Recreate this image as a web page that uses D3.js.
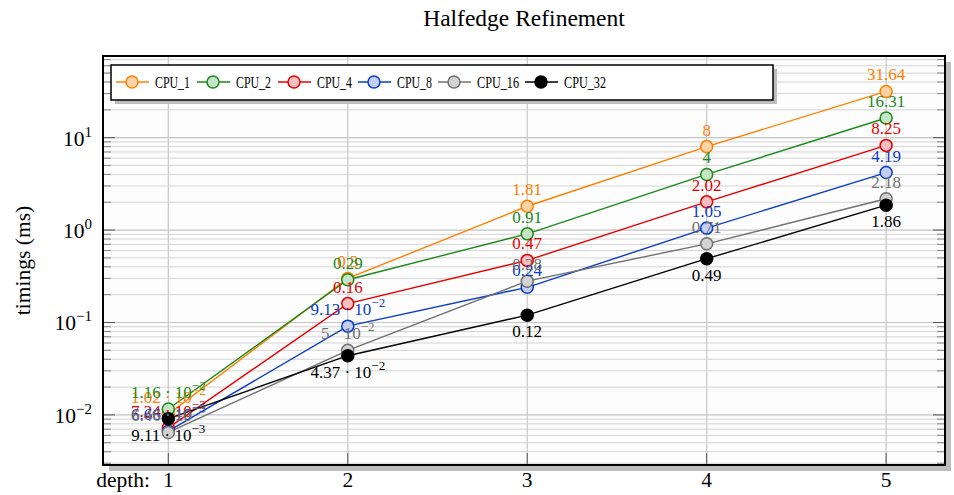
<!doctype html>
<html lang="en">
<head>
<meta charset="UTF-8">
<script src="https://d3js.org/d3.v7.min.js"></script>
<title>Halfedge Refinement</title>
<style>
    body { margin: 0; background: #fff; }
    text { font-family: "Liberation Serif", "DejaVu Serif", serif; }
</style>
</head>
<body>
<svg id="svg1" width="954" height="495"></svg>
<script>
    // data
    var depths = [1, 2, 3, 4, 5];
    var seriesNames = ["CPU_1", "CPU_2", "CPU_4", "CPU_8", "CPU_16", "CPU_32"];
    var cpu1 = [1.02e-2, 0.3, 1.81, 8, 31.64];
    var cpu2 = [1.16e-2, 0.29, 0.91, 4, 16.31];
    var cpu4 = [7.24e-3, 0.16, 0.47, 2.02, 8.25];
    var cpu8 = [6.66e-3, 9.13e-2, 0.24, 1.05, 4.19];
    var cpu16 = [6.46e-3, 5e-2, 0.28, 0.71, 2.18];
    var cpu32 = [9.11e-3, 4.37e-2, 0.12, 0.49, 1.86];
    var yTickLabels = ["10^-2", "10^-1", "10^0", "10^1"];

    var lineColors = ["#ff8000", "#1a8a1a", "#e60000", "#0a3cc8", "#707070", "#000000"];
    var fillColors = ["#ffd3a8", "#c6e4c6", "#f6c0c0", "#c2cff2", "#d2d2d2", "#000000"];
    var allValues = [cpu1, cpu2, cpu4, cpu8, cpu16, cpu32];

    var pLeft = 103, pRight = 945, pTop = 56, pBottom = 465;
    var svg = d3.select("#svg1");

    var x = d3.scaleLinear().domain([0.636, 5.328]).range([pLeft, pRight]);
    var y = d3.scaleLog().domain([0.00287, 76.5]).range([pBottom, pTop]);

    // title
    svg.append("text")
        .attr("x", (pLeft + pRight) / 2)
        .attr("y", 26)
        .attr("text-anchor", "middle")
        .attr("font-size", "23.5px")
        .text("Halfedge Refinement");

    // shadow of the axis box
    svg.append("rect")
        .attr("x", pLeft + 6).attr("y", pTop + 6)
        .attr("width", pRight - pLeft).attr("height", pBottom - pTop)
        .attr("fill", "#bdbdbd");
    svg.append("rect")
        .attr("x", pLeft).attr("y", pTop)
        .attr("width", pRight - pLeft).attr("height", pBottom - pTop)
        .attr("fill", "#fdfdfd");

    var grid = svg.append("g");
    var minorVals = [];
    for (var e = -3; e <= 1; e++) {
        for (var m = 2; m <= 9; m++) {
            var v = m * Math.pow(10, e);
            if (v > y.domain()[0] && v < y.domain()[1]) minorVals.push(v);
        }
    }
    var majorVals = [1e-2, 1e-1, 1, 10];

    grid.selectAll(null).data(minorVals).enter().append("line")
        .attr("x1", pLeft).attr("x2", pRight)
        .attr("y1", function (d) { return y(d); })
        .attr("y2", function (d) { return y(d); })
        .attr("stroke", "#d4d4d4").attr("stroke-width", 1);
    grid.selectAll(null).data(majorVals).enter().append("line")
        .attr("x1", pLeft).attr("x2", pRight)
        .attr("y1", function (d) { return y(d); })
        .attr("y2", function (d) { return y(d); })
        .attr("stroke", "#c4c4c4").attr("stroke-width", 1.2);
    grid.selectAll(null).data(depths).enter().append("line")
        .attr("x1", function (d) { return x(d); })
        .attr("x2", function (d) { return x(d); })
        .attr("y1", pTop).attr("y2", pBottom)
        .attr("stroke", "#c8c8c8").attr("stroke-width", 1.2);

    // tick marks inside on both sides
    var ticks = svg.append("g");
    [[pLeft, 1], [pRight, -1]].forEach(function (s) {
        ticks.selectAll(null).data(minorVals).enter().append("line")
            .attr("x1", s[0]).attr("x2", s[0] + s[1] * 8)
            .attr("y1", function (d) { return y(d); })
            .attr("y2", function (d) { return y(d); })
            .attr("stroke", "#888").attr("stroke-width", 1);
        ticks.selectAll(null).data(majorVals).enter().append("line")
            .attr("x1", s[0]).attr("x2", s[0] + s[1] * 12)
            .attr("y1", function (d) { return y(d); })
            .attr("y2", function (d) { return y(d); })
            .attr("stroke", "#555").attr("stroke-width", 1);
    });
    ticks.selectAll(null).data(depths).enter().append("line")
        .attr("x1", function (d) { return x(d); })
        .attr("x2", function (d) { return x(d); })
        .attr("y1", pBottom).attr("y2", pBottom - 12)
        .attr("stroke", "#555").attr("stroke-width", 1);

    // y tick labels
    var ylab = svg.append("g");
    yTickLabels.forEach(function (t, i) {
        var txt = ylab.append("text")
            .attr("x", 92)
            .attr("y", y(majorVals[i]) + 8)
            .attr("text-anchor", "end")
            .attr("font-size", "21.5px");
        var parts = t.split("^");
        txt.append("tspan").text(parts[0]);
        txt.append("tspan").attr("dy", -9).attr("font-size", "15px")
            .text(parts[1].replace("-", "\u2212"));
    });

    // x tick labels
    svg.selectAll(null).data(depths).enter().append("text")
        .attr("x", function (d) { return x(d); })
        .attr("y", 487)
        .attr("text-anchor", "middle")
        .attr("font-size", "21.5px")
        .text(function (d) { return d; });
    svg.append("text")
        .attr("x", 150).attr("y", 487)
        .attr("text-anchor", "end")
        .attr("font-size", "21.5px")
        .text("depth:");

    svg.append("text")
        .attr("transform", "translate(30," + (pTop + pBottom) / 2 + ") rotate(-90)")
        .attr("text-anchor", "middle")
        .attr("font-size", "21.5px")
        .text("timings (ms)");

    // series
    var line = d3.line()
        .x(function (d, i) { return x(depths[i]); })
        .y(function (d) { return y(d); });

    var plot = svg.append("g");
    allValues.forEach(function (vals, k) {
        plot.append("path")
            .attr("d", line(vals))
            .attr("fill", "none")
            .attr("stroke", lineColors[k])
            .attr("stroke-width", 1.4);
    });
    allValues.forEach(function (vals, k) {
        plot.selectAll(null).data(vals).enter().append("circle")
            .attr("cx", function (d, i) { return x(depths[i]); })
            .attr("cy", function (d) { return y(d); })
            .attr("r", 6)
            .attr("fill", fillColors[k])
            .attr("stroke", lineColors[k])
            .attr("stroke-width", 1.5);
    });

    function addLabel(g, v, cx, cy, color) {
        var t = g.append("text")
            .attr("x", cx).attr("y", cy)
            .attr("text-anchor", "middle")
            .attr("font-size", "17px")
            .attr("fill", color);
        if (v >= 0.1) {
            t.text(+v.toPrecision(4));
            return;
        }
        var ex = Math.floor(Math.log10(v));
        var mant = +(v / Math.pow(10, ex)).toFixed(2);
        t.append("tspan").text(mant + " \u00b7 10");
        t.append("tspan").attr("dy", -8).attr("font-size", "13px")
            .text("\u2212" + (-ex));
    }

    var labels = svg.append("g");
    allValues.forEach(function (vals, k) {
        vals.forEach(function (v, i) {
            var cy = k === 5 ? y(v) + 22 : y(v) - 11;
            addLabel(labels, v, x(depths[i]), cy, lineColors[k]);
        });
    });

    // legend
    var lg = svg.append("g").attr("transform", "translate(111,65)");
    lg.append("rect").attr("x", 4).attr("y", 4).attr("width", 662).attr("height", 35).attr("fill", "#bdbdbd");
    lg.append("rect").attr("width", 662).attr("height", 35)
        .attr("fill", "#fff").attr("stroke", "#000").attr("stroke-width", 1.5);
    var legendOffsets = [5, 86, 167, 247, 327, 414];
    seriesNames.forEach(function (name, k) {
        var item = lg.append("g").attr("transform", "translate(" + legendOffsets[k] + ",17)");
        item.append("line").attr("x1", 0).attr("x2", 33).attr("y1", 0).attr("y2", 0)
            .attr("stroke", lineColors[k]).attr("stroke-width", 1.4);
        item.append("circle").attr("cx", 16).attr("cy", 0).attr("r", 6)
            .attr("fill", fillColors[k]).attr("stroke", lineColors[k]).attr("stroke-width", 1.5);
        item.append("text").attr("x", 39).attr("y", 6).attr("font-size", "16px")
            .attr("textLength", name.length > 5 ? 42 : 35)
            .attr("lengthAdjust", "spacingAndGlyphs")
            .text(name);
    });

    // axis box border
    svg.append("rect")
        .attr("x", pLeft).attr("y", pTop)
        .attr("width", pRight - pLeft).attr("height", pBottom - pTop)
        .attr("fill", "none").attr("stroke", "#000").attr("stroke-width", 2);
</script>
</body>
</html>
